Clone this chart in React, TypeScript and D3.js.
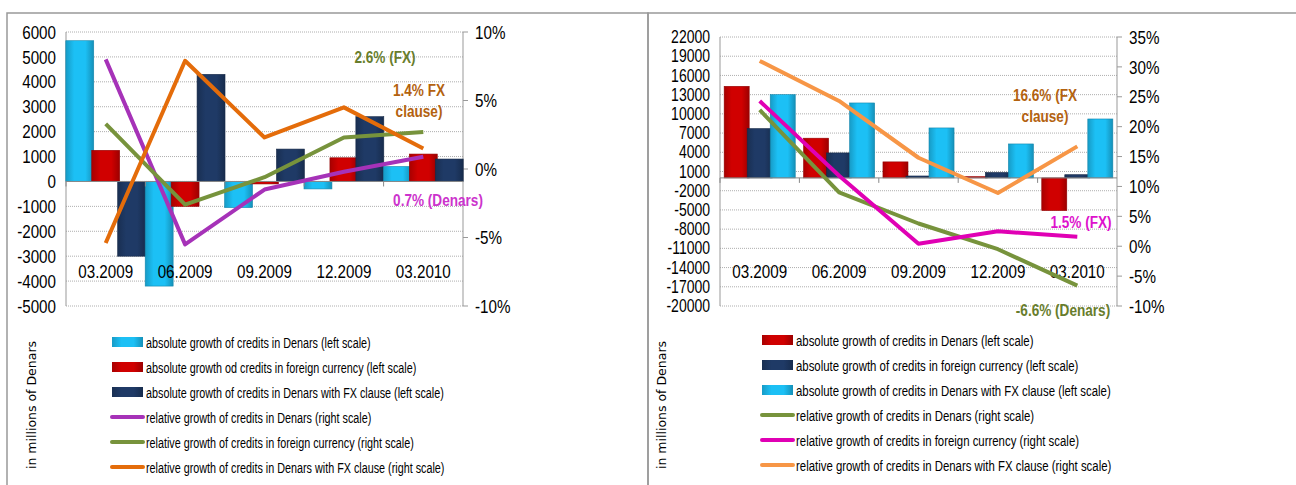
import React from "react"
import * as d3 from "d3"

const categories = ["03.2009", "06.2009", "09.2009", "12.2009", "03.2010"]

// Left panel
const leftDenars = [5650, -4200, -1050, -300, 600]
const leftForeign = [1250, -1000, -100, 950, 1100]
const leftFxClause = [-3000, 4300, 1300, 2600, 900]
const leftRelDenars = [8.0, -5.5, -1.5, -0.2, 0.9]
const leftRelForeign = [3.3, -2.6, -0.6, 2.3, 2.7]
const leftRelFxClause = [-5.4, 7.9, 2.3, 4.5, 1.5]
const leftTicks = [6000, 5000, 4000, 3000, 2000, 1000, 0, -1000, -2000, -3000, -4000, -5000]
const leftPctTicks = [10, 5, 0, -5, -10]

// Right panel
const rightDenars = [14300, 6200, 2500, 200, -5100]
const rightForeign = [7700, 3900, 300, 850, 500]
const rightFxClause = [13000, 11700, 7800, 5300, 9200]
const rightRelDenars = [22.8, 9.0, 3.8, -0.5, -6.6]
const rightRelForeign = [24.3, 11.8, 0.4, 2.5, 1.6]
const rightRelFxClause = [31, 24.3, 14.8, 8.9, 16.7]
const rightTicks = [22000, 19000, 16000, 13000, 10000, 7000, 4000, 1000, -2000, -5000, -8000, -11000, -14000, -17000, -20000]
const rightPctTicks = [35, 30, 25, 20, 15, 10, 5, 0, -5, -10]

const FONT = "'Liberation Sans', Arial, sans-serif"

// condensed text: horizontal squeeze like the narrow font in the original
function T(p: { x: number; y: number; size: number; anchor?: string; fill?: string; bold?: boolean; sx?: number; children: React.ReactNode }) {
  return (
    <text transform={`translate(${p.x},${p.y}) scale(${p.sx ?? 0.8},1)`} dy="0.35em" textAnchor={p.anchor ?? "start"}
      fontSize={p.size} fontFamily={FONT} fill={p.fill ?? "#000"} fontWeight={p.bold ? "bold" : "normal"}>
      {p.children}
    </text>
  )
}

type Bar = { values: number[]; color: string; label: string }
type Line = { values: number[]; color: string; label: string }
type Note = { lines: string[]; x: number; y: number; color: string }

function Panel(props: {
  x0: number; x1: number; yTop: number; yBot: number
  ticks: number[]; pctTicks: number[]
  bars: Bar[]; lines: Line[]; notes: Note[]
  innerPad: number; legendX: number; legendY: number; ylabelX: number
  tickSize: number; legendSx: number
  id: string
}) {
  const { x0, x1, yTop, yBot, ticks, pctTicks, bars, lines, notes, innerPad, legendX, legendY, ylabelX, tickSize, legendSx, id } = props
  const y = d3.scaleLinear().domain([d3.min(ticks)!, d3.max(ticks)!]).range([yBot, yTop])
  const yp = d3.scaleLinear().domain([d3.min(pctTicks)!, d3.max(pctTicks)!]).range([yBot, yTop])
  const x = d3.scaleBand().domain(categories).range([x0, x1]).paddingInner(innerPad).paddingOuter(innerPad / 2)
  const bw = x.bandwidth() / bars.length
  const line = d3.line<number>().x((_, i) => x(categories[i])! + x.bandwidth() / 2).y((v) => yp(v))
  const y0 = y(0)
  return (
    <g>
      <defs>
        {bars.map((b, k) => (
          <linearGradient key={k} id={`${id}g${k}`} x1="0" x2="1" y1="0" y2="0">
            <stop offset="0" stopColor={d3.color(b.color)!.darker(0.6).toString()} />
            <stop offset="0.3" stopColor={b.color} />
            <stop offset="0.7" stopColor={b.color} />
            <stop offset="1" stopColor={d3.color(b.color)!.darker(0.8).toString()} />
          </linearGradient>
        ))}
      </defs>
      {ticks.map((t) => (
        <g key={t}>
          <line x1={x0} x2={x1} y1={y(t)} y2={y(t)} stroke="#999" strokeDasharray="1,1" strokeWidth={0.8} />
          <T x={x0 - 10} y={y(t)} size={tickSize} anchor="end">{t}</T>
        </g>
      ))}
      <line x1={x0} x2={x0} y1={yTop} y2={yBot} stroke="#999" />
      <line x1={x1} x2={x1} y1={yTop} y2={yBot} stroke="#999" />
      {pctTicks.map((t) => (
        <g key={t}>
          <line x1={x1} x2={x1 + 5} y1={yp(t)} y2={yp(t)} stroke="#999" />
          <T x={x1 + 12} y={yp(t)} size={19}>{t}%</T>
        </g>
      ))}
      {categories.map((c, i) =>
        bars.map((b, k) => {
          const v = b.values[i]
          const bx = x(c)! + k * bw - 1
          return (
            <rect key={c + k} x={bx} width={bw + 2} y={Math.min(y(v), y0)} height={Math.abs(y(v) - y0)}
              fill={`url(#${id}g${k})`} stroke={d3.color(b.color)!.darker(1).toString()} strokeWidth={0.6} />
          )
        })
      )}
      <line x1={x0} x2={x1} y1={y0} y2={y0} stroke="#888" />
      {categories.map((c, i) => (
        <line key={c} x1={x0 + i * (x1 - x0) / 5} x2={x0 + i * (x1 - x0) / 5} y1={y0} y2={y0 + 5} stroke="#888" />
      ))}
      {categories.map((c) => (
        <T key={c} x={x(c)! + x.bandwidth() / 2} y={yBot - 35} size={19} anchor="middle">{c}</T>
      ))}
      {lines.map((l, k) => (
        <path key={k} d={line(l.values)!} fill="none" stroke={l.color} strokeWidth={4} strokeLinejoin="round" />
      ))}
      {notes.map((n, k) => (
        <g key={k}>
          {n.lines.map((s, j) => (
            <T key={j} x={n.x} y={n.y + j * 21} size={17} bold anchor="middle" fill={n.color}>{s}</T>
          ))}
        </g>
      ))}
      {[...bars, ...lines].map((s, k) => {
        const ly = legendY + k * 25
        const isBar = k < bars.length
        return (
          <g key={k}>
            {isBar ? (
              <rect x={legendX} y={ly - 6} width={31} height={10} fill={`url(#${id}g${k})`} />
            ) : (
              <line x1={legendX} x2={legendX + 31} y1={ly - 1} y2={ly - 1} stroke={s.color} strokeWidth={4} strokeLinecap="round" />
            )}
            <T x={legendX + 34} y={ly} size={15} sx={legendSx}>{s.label}</T>
          </g>
        )
      })}
      <text transform={`translate(${ylabelX},405) rotate(-90)`} dy="0.35em" textAnchor="middle" fontSize={12.5} fontFamily="'DejaVu Sans', sans-serif">in millions of Denars</text>
    </g>
  )
}

export default function App() {
  return (
    <svg width={1296} height={485} style={{ position: "absolute", left: 0, top: 0, background: "#fff" }}>
      <rect x={7} y={13} width={641} height={480} fill="none" stroke="#999" strokeWidth={1.5} />
      <rect x={648} y={13} width={660} height={480} fill="none" stroke="#999" strokeWidth={1.5} />
      <Panel id="L" x0={66} x1={463} yTop={32} yBot={306} ticks={leftTicks} pctTicks={leftPctTicks} innerPad={0.02}
        legendX={112} legendY={343} ylabelX={32} tickSize={19} legendSx={0.72}
        bars={[
          { values: leftDenars, color: "#1cc0f5", label: "absolute growth of credits in Denars (left scale)" },
          { values: leftForeign, color: "#d00000", label: "absolute growth od credits in foreign currency (left scale)" },
          { values: leftFxClause, color: "#1f3a66", label: "absolute growth of credits in Denars with FX clause (left scale)" },
        ]}
        lines={[
          { values: leftRelDenars, color: "#a632b8", label: "relative growth of credits in Denars (right scale)" },
          { values: leftRelForeign, color: "#77933c", label: "relative growth of credits in foreign currency (right scale)" },
          { values: leftRelFxClause, color: "#e46c0a", label: "relative growth of credits in Denars with FX clause (right scale)" },
        ]}
        notes={[
          { lines: ["2.6% (FX)"], x: 385, y: 57, color: "#687d2c" },
          { lines: ["1.4% FX", "clause)"], x: 419, y: 90, color: "#b3620f" },
          { lines: ["0.7% (Denars)"], x: 438, y: 200, color: "#cc33cc" },
        ]}
      />
      <Panel id="R" x0={720} x1={1117} yTop={37} yBot={306} ticks={rightTicks} pctTicks={rightPctTicks} innerPad={0.13}
        legendX={762} legendY={341} ylabelX={662} tickSize={17.5} legendSx={0.76}
        bars={[
          { values: rightDenars, color: "#d00000", label: "absolute growth of credits in Denars (left scale)" },
          { values: rightForeign, color: "#1f3a66", label: "absolute growth of credits in foreign currency (left scale)" },
          { values: rightFxClause, color: "#1cc0f5", label: "absolute growth of credits in Denars with FX clause (left scale)" },
        ]}
        lines={[
          { values: rightRelDenars, color: "#77933c", label: "relative growth of credits in Denars (right scale)" },
          { values: rightRelForeign, color: "#e000b4", label: "relative growth of credits in foreign currency (right scale)" },
          { values: rightRelFxClause, color: "#f79646", label: "relative growth of credits in Denars with FX clause (right scale)" },
        ]}
        notes={[
          { lines: ["16.6% (FX", "clause)"], x: 1045, y: 95, color: "#b3620f" },
          { lines: ["1.5% (FX)"], x: 1081, y: 222, color: "#dd11cc" },
          { lines: ["-6.6% (Denars)"], x: 1063, y: 310, color: "#687d2c" },
        ]}
      />
    </svg>
  )
}
